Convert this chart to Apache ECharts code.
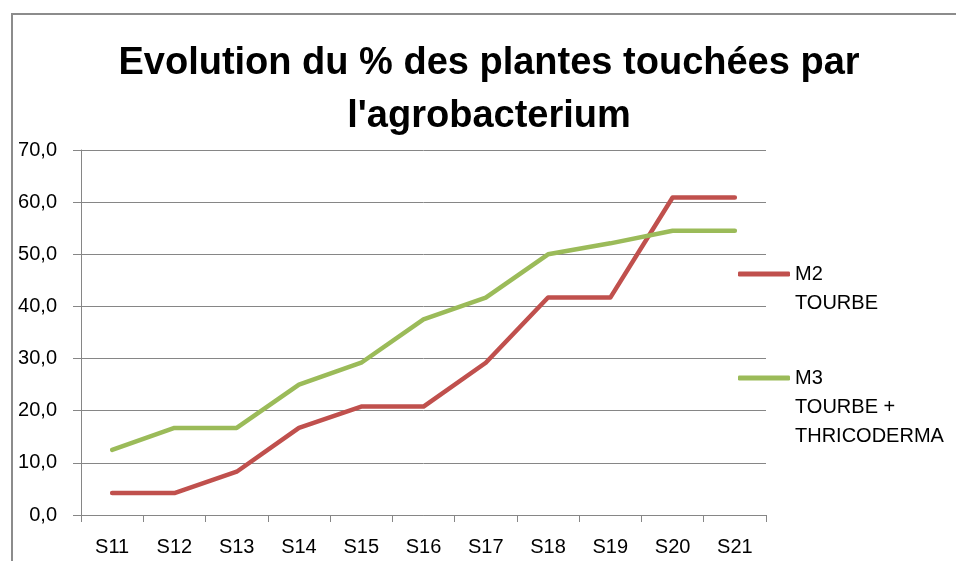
<!DOCTYPE html>
<html>
<head>
<meta charset="utf-8">
<script src="https://cdn.jsdelivr.net/npm/echarts@6/dist/echarts.min.js"></script>
<style>
html,body{margin:0;padding:0;background:#fff;}
#frame{position:absolute;left:11px;top:13px;width:960px;height:560px;border:2px solid #8c8c8c;box-sizing:border-box;}
#chart{position:absolute;left:0;top:0;width:956px;height:561px;}
</style>
</head>
<body>
<div id="frame"></div>
<div id="chart"></div>
<script>
const titleText = "Evolution du % des plantes touchées par\nl'agrobacterium";
const categories = ['S11','S12','S13','S14','S15','S16','S17','S18','S19','S20','S21'];
const m2Name = 'M2';
const m2Extra = 'TOURBE';
const m2Values = [4.2, 4.2, 8.3, 16.7, 20.8, 20.8, 29.2, 41.7, 41.7, 60.9, 60.9];
const m3Name = 'M3';
const m3Extra = 'TOURBE +\nTHRICODERMA';
const m3Values = [12.5, 16.7, 16.7, 25.0, 29.2, 37.5, 41.7, 50.0, 52.1, 54.5, 54.5];
const yMin = 0, yMax = 70, yStep = 10;

const FONT = '"Liberation Sans", Arial, sans-serif';
const LH = 29;
const legendText = {fontFamily: FONT, fontSize: 20, lineHeight: LH, color: '#000'};
const chart = echarts.init(document.getElementById('chart'));
chart.setOption({
  animation: false,
  title: {
    text: titleText,
    left: 489, top: 37, textAlign: 'center', padding: 0,
    textStyle: {fontFamily: FONT, fontWeight: 'bold', fontSize: 38, lineHeight: 53, color: '#000'}
  },
  legend: [
    {
      orient: 'vertical', left: 738, top: 274 - LH / 2,
      itemWidth: 52, itemHeight: 5, icon: 'roundRect', itemGap: 0, padding: 0,
      data: [m2Name], textStyle: legendText
    },
    {
      orient: 'vertical', left: 738, top: 378 - LH / 2,
      itemWidth: 52, itemHeight: 5, icon: 'roundRect', itemGap: 0, padding: 0,
      data: [m3Name], textStyle: legendText
    }
  ],
  graphic: [
    {type: 'text', left: 795, top: 274 + LH / 2, silent: true,
     style: Object.assign({text: m2Extra, fill: '#000', font: '20px ' + FONT, lineHeight: LH})},
    {type: 'text', left: 795, top: 378 + LH / 2, silent: true,
     style: Object.assign({text: m3Extra, fill: '#000', font: '20px ' + FONT, lineHeight: LH})}
  ],
  grid: {left: 81, right: 190, top: 150, bottom: 46},
  xAxis: {
    type: 'category', data: categories, boundaryGap: true,
    axisLine: {lineStyle: {color: '#868686', width: 1}},
    axisTick: {show: true, length: 7, lineStyle: {color: '#868686'}},
    axisLabel: {fontFamily: FONT, fontSize: 20, color: '#000', margin: 22}
  },
  yAxis: {
    type: 'value', min: yMin, max: yMax, interval: yStep,
    axisLine: {show: true, lineStyle: {color: '#868686', width: 1}},
    axisTick: {show: true, length: 8, lineStyle: {color: '#868686'}},
    axisLabel: {fontFamily: FONT, fontSize: 20, color: '#000', margin: 24,
      formatter: v => v.toFixed(1).replace('.', ',')},
    splitLine: {lineStyle: {color: '#868686', width: 1}}
  },
  series: [
    {name: m2Name, type: 'line', data: m2Values, symbol: 'none', color: '#C0504D',
     lineStyle: {width: 4.5, cap: 'round', join: 'round'}},
    {name: m3Name, type: 'line', data: m3Values, symbol: 'none', color: '#9BBB59',
     lineStyle: {width: 4.5, cap: 'round', join: 'round'}}
  ]
});
</script>
</body>
</html>
